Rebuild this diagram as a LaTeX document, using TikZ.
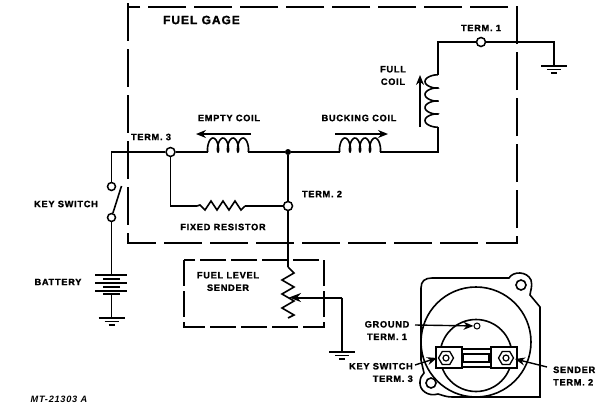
\documentclass[tikz,border=0pt]{standalone}
\usepackage{fontspec}
\setmainfont{Liberation Sans}[LetterSpace=8,BoldFeatures={FakeBold=1.6}]
\usetikzlibrary{arrows.meta,shapes.geometric}
\tikzset{
  wire/.style={line width=1.6pt,black},
  thin wire/.style={line width=1.2pt,black},
  boxd/.style={line width=1.5pt,black,dash pattern=on 38pt off 8pt},
  term/.style={circle,draw=black,line width=1.5pt,fill=white,minimum size=9pt,inner sep=0pt},
  swt/.style={circle,draw=black,line width=1.5pt,fill=white,minimum size=8pt,inner sep=0pt},
  dot/.style={circle,fill=black,minimum size=6pt,inner sep=0pt},
  lbl/.style={inner sep=0pt,align=center,font=\fontsize{9.2}{12.5}\selectfont\bfseries,text=black},
  arr/.style={line width=1.4pt,black,-{Stealth[length=10pt,width=8pt]}},
  ground/.pic={\draw[thin wire] (-13,0)--(13,0) (-7,3.5)--(7,3.5);\draw[line width=1.8pt,black] (-3,7)--(3,7);},
  hcoil/.pic={\draw[wire,smooth] plot[domain=0:4,samples=90,variable=\t] ({10*\t-2.5*sin(360*\t)},{-7*(1-cos(360*\t))});},
  vcoil/.pic={\draw[wire,smooth] plot[domain=0:4,samples=90,variable=\t] ({-6.5*(1-cos(360*\t))},{-13*\t+2.5*sin(360*\t)});},
}
\begin{document}
\begin{tikzpicture}[x=1pt,y=-1pt]
\useasboundingbox (0,0) rectangle (600,410);
% dashed enclosures
\draw[boxd] (128,3) -- (128,243) -- (517,243) -- (517,7) -- (128,7) -- cycle;
\draw[boxd,dash pattern=on 26pt off 5pt] (184,260) -- (184,327) -- (324,327) -- (324,260) -- cycle;
% nodes
\node[term] (t3) at (170.5,152) {};
\node[term] (t2) at (288,206) {};
\node[term] (t1) at (481,42) {};
\node[dot] (j) at (288,152) {};
\node[swt] (ks1) at (111.5,186.5) {};
\node[swt] (ks2) at (111.5,217.5) {};
\coordinate (ecL) at (208,152); \coordinate (ecR) at (248,152);
\coordinate (bcL) at (340,152); \coordinate (bcR) at (380,152);
\coordinate (fcB) at (438,127); \coordinate (fcT) at (438,75);
\coordinate (g1) at (554,66); \coordinate (g2) at (111.5,318); \coordinate (g3) at (342,352);
\coordinate (rL) at (197,206); \coordinate (rR) at (245,206);
\coordinate (sT) at (288,267); \coordinate (sB) at (288,318);
\coordinate (wip) at (342,297.5); \coordinate (wipT) at (289,297.5);
\coordinate (batT) at (111.5,275); \coordinate (batB) at (111.5,294);
\coordinate (swE) at (121.5,186);
% wiring
\draw[wire] (t3) -- (ecL);
\draw[wire] (ecR) -- (j) -- (bcL);
\draw[wire] (bcR) -- (438,152) -- (fcB);
\draw[wire] (fcT) -- (438,42) -- (t1);
\draw[wire] (t1) -- (554,42) -- (g1);
\draw[wire] (t3) -- (111.5,152) -- (ks1);
\draw[wire] (ks2) -- (swE);
\draw[thin wire] (ks2) -- (batT);
\draw[wire] (batB) -- (g2);
\draw[wire] (t3) -- (170.5,206) -- (rL);
\draw[wire] (rR) -- (t2);
\draw[wire] (j) -- (t2);
\draw[wire] (t2) -- (sT);
\draw[wire] (wip) -- (g3);
\draw[line width=2pt,black,-{Stealth[length=12pt,width=9pt]}] (wip) -- (wipT);
% coils and resistors
\pic at (ecL) {hcoil};
\pic at (bcL) {hcoil};
\pic at (fcB) {vcoil};
\draw[wire] (rL) -- ++(3,-1) -- ++(5,5) -- ++(6,-9) -- ++(6,9) -- ++(6,-9) -- ++(6,9) -- ++(6,-9) -- ++(6,9) -- (rR);
\draw[wire] (sT) -- ++(6,6) -- ++(-12,7) -- ++(12,7) -- ++(-12,7) -- ++(12,7) -- ++(-12,7) -- ++(12,7) -- (sB);
% battery
\draw[thin wire] (95,275)--(127,275) (95,283)--(127,283) (95,291)--(127,291);
\draw[wire] (103,279)--(120,279) (103,287)--(120,287) (103,294)--(120,294);
% grounds
\pic at (g1) {ground};
\pic at (g2) {ground};
\pic at (g3) {ground};
% current arrows
\draw[arr] (251,134) -- (196,134);
\draw[arr] (335,134) -- (388,134);
\draw[arr] (420,127) -- (420,75);
% gauge drawing
\draw[wire] (421,288) .. controls (421,281) and (425,278) .. (432,278) -- (509,278)
  .. controls (513,271) and (527,271) .. (531,280) .. controls (533,286) and (530,292) .. (530,295)
  -- (540,307) -- (540,397) -- (452,397)
  .. controls (446,397) and (442,395) .. (438,394) .. controls (428,397) and (419,390) .. (420,382)
  .. controls (420,378) and (422,375) .. (424,373) -- (421,360) -- cycle;
\draw[wire] (476,342) circle[radius=55];
\draw[wire] (476,355.5) circle[radius=36];
\node[circle,draw=black,line width=1pt,minimum size=6pt,inner sep=0pt] (hole) at (477,326) {};
\draw[wire,fill=white] (521,285) circle[radius=5];
\draw[wire,fill=white] (431,383) circle[radius=5];
\draw[wire,fill=white] (462,349) rectangle (491,367);
\draw[wire,fill=white] (436,347) rectangle (462,368);
\draw[wire,fill=white] (491,347) rectangle (517,368);
\draw[wire] (463,354) rectangle (489,362);
\node[regular polygon,regular polygon sides=6,draw=black,line width=1.3pt,minimum size=15pt,inner sep=0pt] (n3) at (446,358) {};
\node[regular polygon,regular polygon sides=6,draw=black,line width=1.3pt,minimum size=15pt,inner sep=0pt] (n2) at (506,358) {};
\draw[thin wire] (n3.center) circle[radius=3];
\draw[thin wire] (n2.center) circle[radius=3];
\coordinate (aG) at (415,325); \coordinate (aK) at (415,365); \coordinate (aS) at (547,367);
\draw[arr] (aG) -- (hole);
\draw[arr] (aK) -- (437,358);
\draw[arr] (aS) -- (515,359);
% labels
\node[lbl,font=\fontsize{12}{13}\selectfont\bfseries] (lfg) at (201.5,20) {FUEL GAGE};
\node[lbl] (lt1) at (481,28) {TERM. 1};
\node[lbl] (lfc) at (393,75.5) {FULL\\COIL};
\node[lbl] (lec) at (229,118) {EMPTY COIL};
\node[lbl] (lbc) at (359,118) {BUCKING COIL};
\node[lbl] (lt3) at (151,137) {TERM. 3};
\node[lbl] (lt2) at (322,194) {TERM. 2};
\node[lbl] (lfr) at (223,227) {FIXED RESISTOR};
\node[lbl] (lks) at (66,204) {KEY SWITCH};
\node[lbl] (lbt) at (58,282) {BATTERY};
\node[lbl] (lfs) at (228,281.5) {FUEL LEVEL\\SENDER};
\node[lbl,font=\fontsize{9.2}{12.5}\selectfont\bfseries\itshape] (lmt) at (59,399) {MT-21303 A};
\node[lbl] (lgr) at (387,330.5) {GROUND\\TERM. 1};
\node[lbl,align=right,anchor=east] (lk3) at (413,372.5) {KEY SWITCH\\TERM. 3};
\node[lbl,align=left,anchor=west] (ls2) at (553,376) {SENDER\\TERM. 2};
\end{tikzpicture}
\end{document}
